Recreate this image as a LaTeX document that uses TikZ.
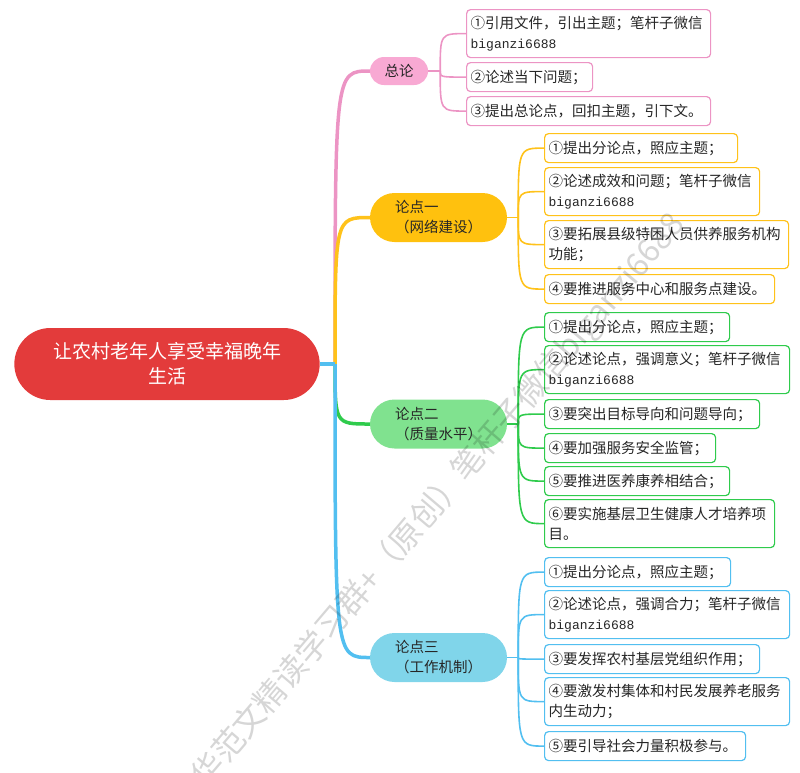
\documentclass[tikz,border=0pt]{standalone}
\usepackage{fontspec}
\setmainfont{Noto Sans CJK SC}
\newfontfamily\idfont{Liberation Mono}
\usepackage{tikz}
\usetikzlibrary{shapes.misc}
\definecolor{rootred}{HTML}{E33B3B}
\definecolor{pinkline}{HTML}{EC94C4}
\definecolor{pinkfill}{HTML}{F8A9D3}
\definecolor{yellowline}{HTML}{FFC21A}
\definecolor{yellowfill}{HTML}{FFC10E}
\definecolor{greenline}{HTML}{2FCB4C}
\definecolor{greenfill}{HTML}{80E28F}
\definecolor{blueline}{HTML}{52BFF0}
\definecolor{bluefill}{HTML}{80D5EA}
\newcommand{\wxid}{{\idfont\fontsize{13}{20}\selectfont biganzi6688}}

\begin{document}
\begin{tikzpicture}[x=1pt, y=-1pt,
    every node/.style={font=\fontsize{14.5}{20}\selectfont, text=black!85},
    topic/.style={rounded rectangle, align=left, inner sep=0pt, minimum width=137pt, minimum height=49pt},
    leaf/.style={anchor=north west, draw, line width=1.2pt, fill=white, rounded corners=4pt, align=left, inner xsep=4pt, inner ysep=2pt},
    single/.style={minimum height=29pt},
    double/.style={minimum height=48pt},
    mainbr/.style={line width=3.5pt},
    subbr/.style={line width=1.6pt}]
    \useasboundingbox (0,0) rectangle (800,772);

    \node[rounded rectangle, fill=rootred, text=white, minimum width=312pt, minimum height=72pt, align=center, font=\fontsize{19}{25}\selectfont] (root) at (167,364) {让农村老年人享受幸福晚年\\生活};

    \node[topic, fill=pinkfill, minimum width=58pt, minimum height=28pt] (zonglun) at (399,71) {总论};
    \node[topic, fill=yellowfill] (lun1) at (438.5,217.5) {论点一\\（网络建设）};
    \node[topic, fill=greenfill] (lun2) at (438.5,424) {论点二\\（质量水平）};
    \node[topic, fill=bluefill] (lun3) at (438.5,657.5) {论点三\\（工作机制）};

    \coordinate (hub) at (335,364);
    \draw[mainbr, pinkline] (hub) .. controls (hub |- zonglun.west) .. (zonglun.west);
    \draw[mainbr, yellowline] (hub) .. controls (hub |- lun1.west) .. (lun1.west);
    \draw[mainbr, greenline] (hub) .. controls (hub |- lun2.west) .. (lun2.west);
    \draw[mainbr, blueline] (hub) .. controls (hub |- lun3.west) .. (lun3.west);
    \draw[mainbr, blueline] (root.east) -- (hub);

    \node[leaf, double, draw=pinkline, text width=236pt] (z1) at (466,9) {①引用文件，引出主题；笔杆子微信\\\wxid};
    \node[leaf, single, draw=pinkline, text width=118pt] (z2) at (466,62) {②论述当下问题；};
    \node[leaf, single, draw=pinkline, text width=236pt] (z3) at (466,96) {③提出总论点，回扣主题，引下文。};

    \node[leaf, single, draw=yellowline, text width=185pt] (a1) at (544,133) {①提出分论点，照应主题；};
    \node[leaf, double, draw=yellowline, text width=207pt] (a2) at (544,167) {②论述成效和问题；笔杆子微信\\\wxid};
    \node[leaf, double, draw=yellowline, text width=236pt] (a3) at (544,220) {③要拓展县级特困人员供养服务机构\\功能；};
    \node[leaf, single, draw=yellowline, text width=222pt] (a4) at (544,274) {④要推进服务中心和服务点建设。};

    \node[leaf, single, draw=greenline, text width=177pt] (b1) at (544,312) {①提出分论点，照应主题；};
    \node[leaf, double, draw=greenline, text width=237pt] (b2) at (544,345) {②论述论点，强调意义；笔杆子微信\\\wxid};
    \node[leaf, single, draw=greenline, text width=207pt] (b3) at (544,399) {③要突出目标导向和问题导向；};
    \node[leaf, single, draw=greenline, text width=163pt] (b4) at (544,433) {④要加强服务安全监管；};
    \node[leaf, single, draw=greenline, text width=177pt] (b5) at (544,466) {⑤要推进医养康养相结合；};
    \node[leaf, double, draw=greenline, text width=222pt] (b6) at (544,499) {⑥要实施基层卫生健康人才培养项\\目。};

    \node[leaf, single, draw=blueline, text width=178pt] (c1) at (544,557) {①提出分论点，照应主题；};
    \node[leaf, double, draw=blueline, text width=237pt] (c2) at (544,590) {②论述论点，强调合力；笔杆子微信\\\wxid};
    \node[leaf, single, draw=blueline, text width=207pt] (c3) at (544,644) {③要发挥农村基层党组织作用；};
    \node[leaf, double, draw=blueline, text width=237pt] (c4) at (544,677) {④要激发村集体和村民发展养老服务\\内生动力；};
    \node[leaf, single, draw=blueline, text width=193pt] (c5) at (544,731) {⑤要引导社会力量积极参与。};

    \coordinate (zh) at ([xshift=12pt]zonglun.east);
    \draw[subbr, pinkline] (zonglun.east) -- (zh);
    \foreach \n in {z1,z2,z3}
        \draw[subbr, pinkline] (zh) .. controls (zh |- \n.west) .. (\n.west);

    \coordinate (h1) at ([xshift=11pt]lun1.east);
    \draw[subbr, yellowline] (lun1.east) -- (h1);
    \foreach \n in {a1,a2,a3,a4}
        \draw[subbr, yellowline] (h1) .. controls (h1 |- \n.west) .. (\n.west);

    \coordinate (h2) at ([xshift=11pt]lun2.east);
    \draw[subbr, greenline] (lun2.east) -- (h2);
    \foreach \n in {b1,b2,b3,b4,b5,b6}
        \draw[subbr, greenline] (h2) .. controls (h2 |- \n.west) .. (\n.west);

    \coordinate (h3) at ([xshift=11pt]lun3.east);
    \draw[subbr, blueline] (lun3.east) -- (h3);
    \foreach \n in {c1,c2,c3,c4,c5}
        \draw[subbr, blueline] (h3) .. controls (h3 |- \n.west) .. (\n.west);

    \node[rotate=49.6, anchor=west, inner sep=0pt, text=black, text opacity=0.16, font=\fontsize{32}{32}\selectfont] (mark) at (199,783) {华范文精读学习群+（原创）笔杆子微信biganzi6688};
\end{tikzpicture}
\end{document}
